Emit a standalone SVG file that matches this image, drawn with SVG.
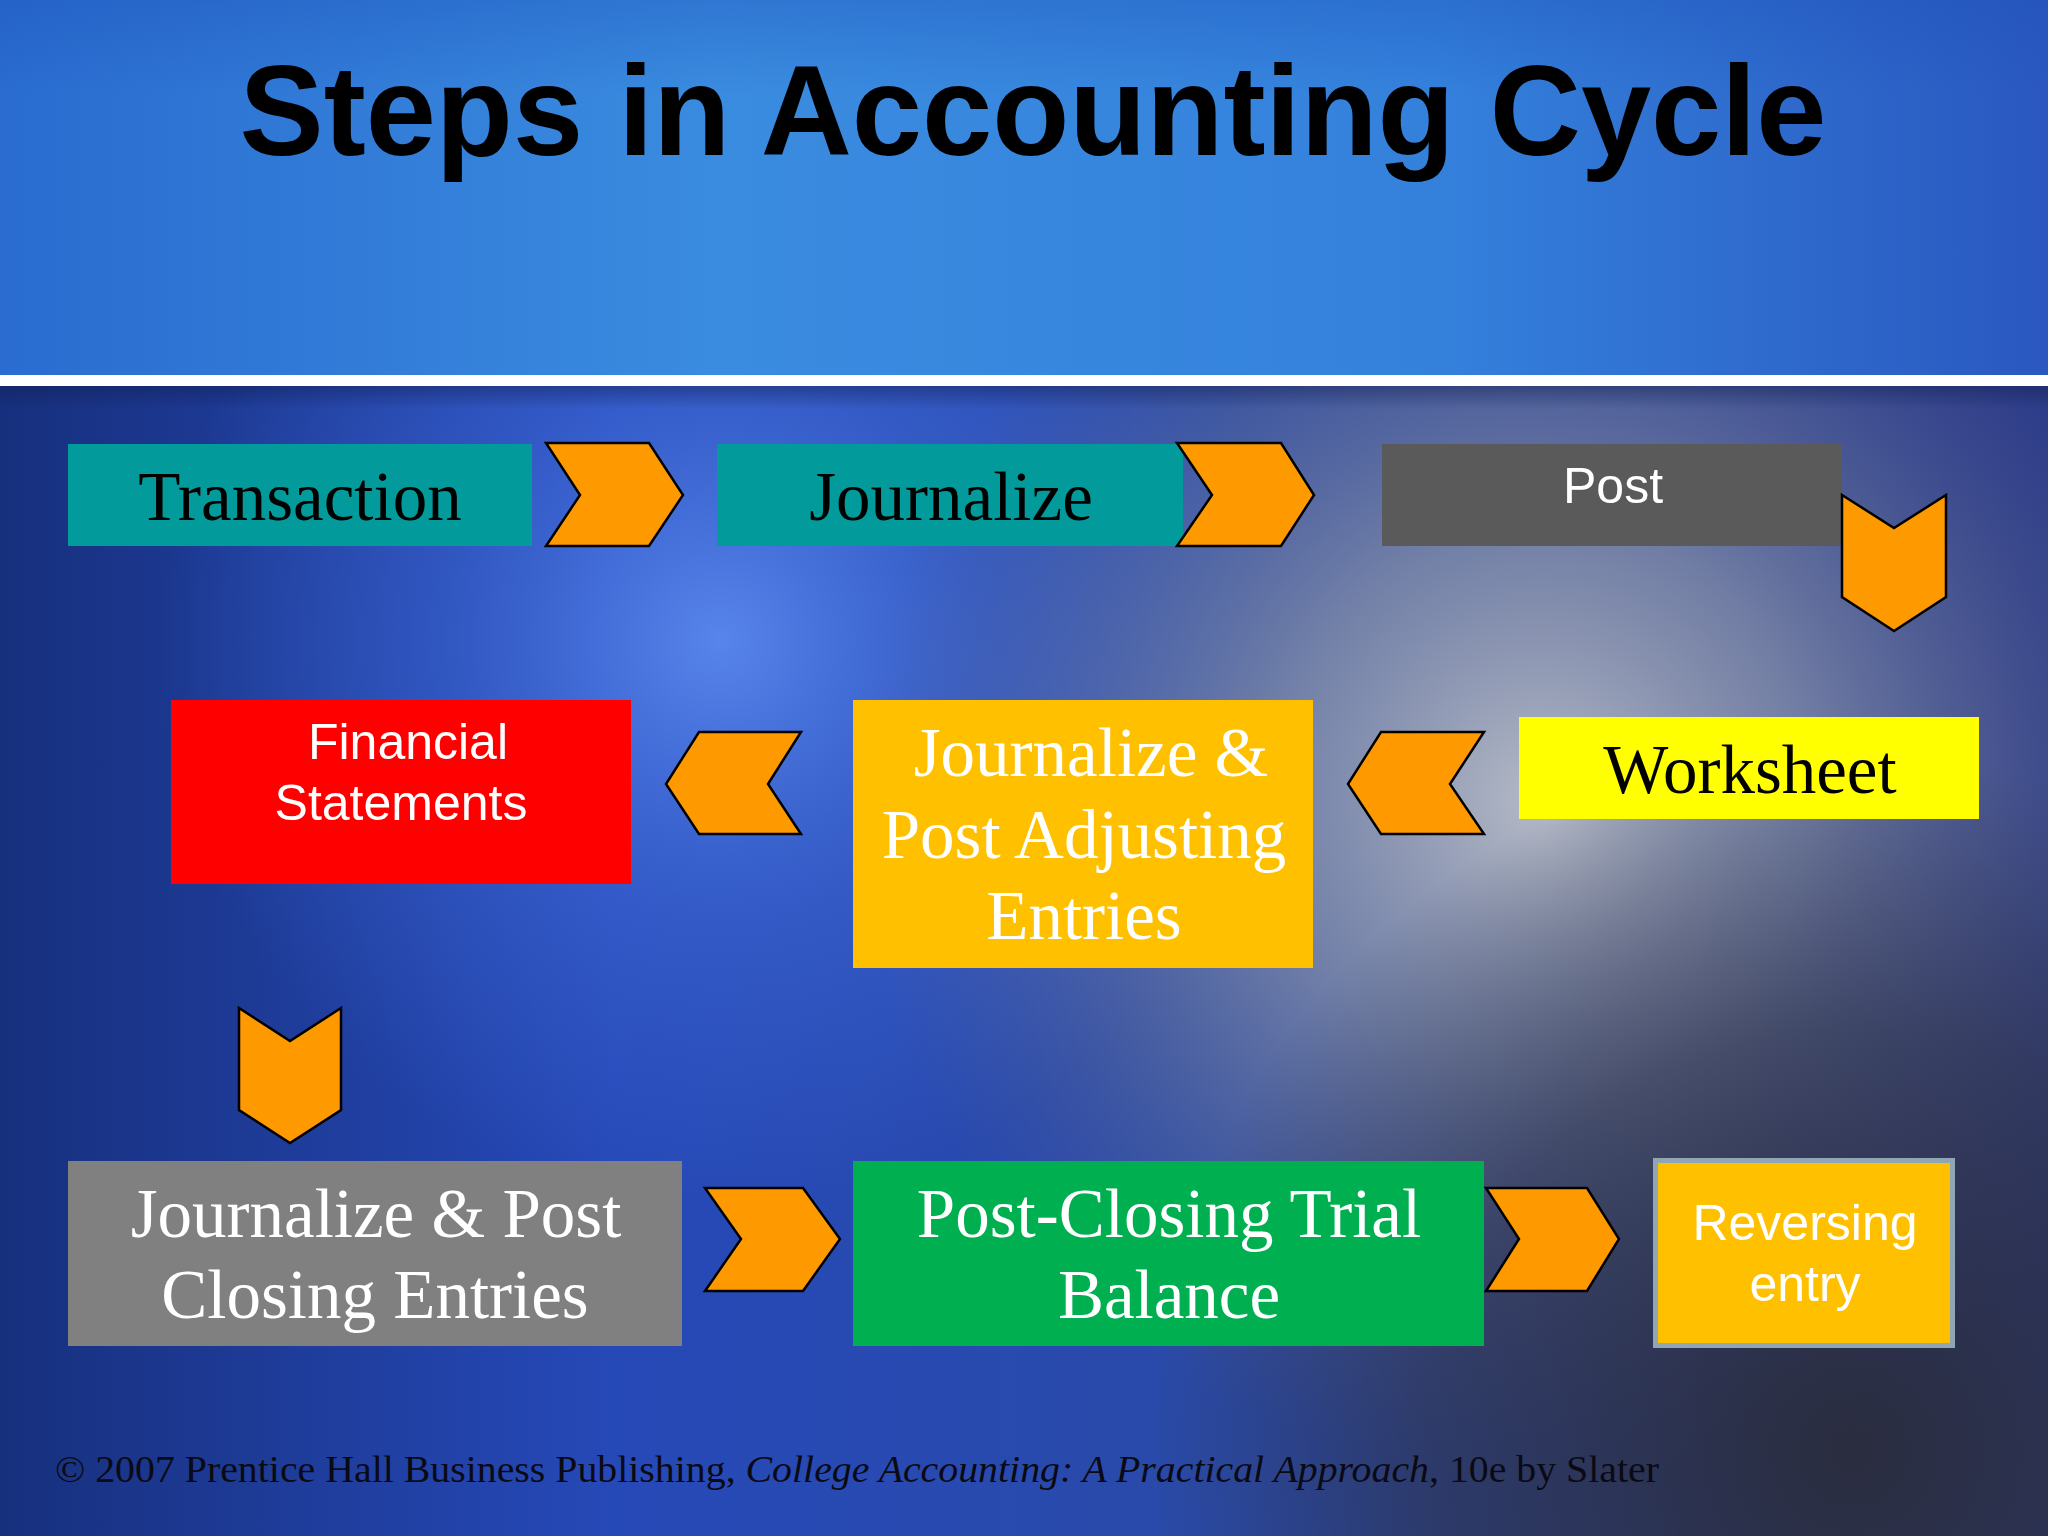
<svg xmlns="http://www.w3.org/2000/svg" width="2048" height="1536" viewBox="0 0 2048 1536">
<defs>
<linearGradient id="topg" x1="0" y1="0" x2="1" y2="0">
<stop offset="0" stop-color="#2a6cd0"/>
<stop offset="0.35" stop-color="#3a8ce0"/>
<stop offset="0.7" stop-color="#3481dc"/>
<stop offset="1" stop-color="#2a58c0"/>
</linearGradient>
<linearGradient id="topv" x1="0" y1="0" x2="0" y2="1">
<stop offset="0" stop-color="#1c50b8" stop-opacity="0.35"/>
<stop offset="0.25" stop-color="#1c50b8" stop-opacity="0"/>
<stop offset="1" stop-color="#1c50b8" stop-opacity="0"/>
</linearGradient>
<linearGradient id="botg" x1="0" y1="0" x2="1" y2="0">
<stop offset="0" stop-color="#17307e"/>
<stop offset="0.3" stop-color="#2649b8"/>
<stop offset="0.6" stop-color="#2a4aa8"/>
<stop offset="1" stop-color="#2a3a8a"/>
</linearGradient>
<radialGradient id="blueglow" cx="720" cy="640" r="560" gradientUnits="userSpaceOnUse">
<stop offset="0" stop-color="#5a88ee" stop-opacity="0.95"/>
<stop offset="0.5" stop-color="#3f6ad8" stop-opacity="0.5"/>
<stop offset="1" stop-color="#3f6ad8" stop-opacity="0"/>
</radialGradient>
<radialGradient id="grayglow" cx="1540" cy="800" r="680" gradientUnits="userSpaceOnUse">
<stop offset="0" stop-color="#bcc0c8" stop-opacity="0.95"/>
<stop offset="0.4" stop-color="#9098aa" stop-opacity="0.7"/>
<stop offset="1" stop-color="#5a6080" stop-opacity="0"/>
</radialGradient>
<radialGradient id="darkbr" cx="1850" cy="1450" r="700" gradientUnits="userSpaceOnUse">
<stop offset="0" stop-color="#2a2c3a" stop-opacity="0.95"/>
<stop offset="0.6" stop-color="#2e3246" stop-opacity="0.6"/>
<stop offset="1" stop-color="#2e3246" stop-opacity="0"/>
</radialGradient>
<linearGradient id="bandg" x1="0" y1="0" x2="0" y2="1">
<stop offset="0" stop-color="#101c50" stop-opacity="0.45"/>
<stop offset="1" stop-color="#101c50" stop-opacity="0"/>
</linearGradient>
<style>
.chev{fill:#ff9900;stroke:#000;stroke-width:2.5;stroke-linejoin:miter}
.serif{font-family:"Liberation Serif","Times New Roman",serif;font-size:69px;text-anchor:middle}
.sans{font-family:"Liberation Sans",Arial,sans-serif;font-size:50px;text-anchor:middle}
.w{fill:#fff}
.k{fill:#000}
</style>
</defs>
<g id="background">
<rect x="0" y="0" width="2048" height="1536" fill="url(#botg)"/>
<rect x="0" y="385" width="2048" height="1151" fill="url(#blueglow)"/>
<rect x="0" y="385" width="2048" height="1151" fill="url(#grayglow)"/>
<rect x="0" y="385" width="2048" height="1151" fill="url(#darkbr)"/>
<rect x="0" y="385" width="2048" height="24" fill="url(#bandg)"/>
<rect x="0" y="0" width="2048" height="375" fill="url(#topg)"/>
<rect x="0" y="0" width="2048" height="375" fill="url(#topv)"/>
<rect x="0" y="375" width="2048" height="11" fill="#ffffff"/>
</g>
<text id="title" x="1033" y="155" font-family="'Liberation Sans',Arial,sans-serif" font-weight="bold" font-size="128" text-anchor="middle" textLength="1587" lengthAdjust="spacingAndGlyphs" fill="#000">Steps in Accounting Cycle</text>
<g id="node-transaction">
<rect x="68" y="444" width="464" height="102" fill="#029a9a"/>
<text class="serif k" x="300" y="520">Transaction</text>
</g>
<g id="node-journalize">
<rect x="717" y="444" width="466" height="102" fill="#029a9a"/>
<text class="serif k" x="951" y="520">Journalize</text>
</g>
<g id="node-post">
<rect x="1382" y="444" width="460" height="102" fill="#5a5a5a"/>
<text class="sans w" x="1613" y="503" font-size="49">Post</text>
</g>
<g id="node-worksheet">
<rect x="1519" y="717" width="460" height="102" fill="#ffff00"/>
<text class="serif k" x="1750" y="793">Worksheet</text>
</g>
<g id="node-adjusting">
<rect x="853" y="700" width="460" height="268" fill="#ffc000"/>
<text class="serif w" x="1091" y="776">Journalize &amp;</text>
<text class="serif w" x="1084" y="858">Post Adjusting</text>
<text class="serif w" x="1084" y="939">Entries</text>
</g>
<g id="node-financial">
<rect x="171" y="700" width="460" height="184" fill="#ff0000"/>
<text class="sans w" x="408" y="759">Financial</text>
<text class="sans w" x="401" y="820">Statements</text>
</g>
<g id="node-closing">
<rect x="68" y="1161" width="614" height="185" fill="#808080"/>
<text class="serif w" x="376" y="1237">Journalize &amp; Post</text>
<text class="serif w" x="375" y="1318">Closing Entries</text>
</g>
<g id="node-postclosing">
<rect x="853" y="1161" width="631" height="185" fill="#00b050"/>
<text class="serif w" x="1169" y="1237">Post-Closing Trial</text>
<text class="serif w" x="1169" y="1318">Balance</text>
</g>
<g id="node-reversing">
<rect x="1655.5" y="1160.5" width="297" height="185" fill="#ffc000" stroke="#8fa6b4" stroke-width="5"/>
<text class="sans w" x="1805" y="1240">Reversing</text>
<text class="sans w" x="1805" y="1301">entry</text>
</g>
<g id="connectors">
<polygon class="chev" points="546,443 649,443 683,495 649,546 546,546 580,495"/>
<polygon class="chev" points="1177,443 1281,443 1314,495 1281,546 1177,546 1212,495"/>
<polygon class="chev" points="1842,495 1894,528 1946,495 1946,597 1894,631 1842,597"/>
<polygon class="chev" points="1484,732 1381,732 1348,784 1381,834 1484,834 1450,784"/>
<polygon class="chev" points="801,732 699,732 666,784 699,834 801,834 768,784"/>
<polygon class="chev" points="239,1008 290,1041 341,1008 341,1110 290,1143 239,1110"/>
<polygon class="chev" points="705,1188 803,1188 840,1239 803,1291 705,1291 741,1239"/>
<polygon class="chev" points="1486,1188 1587,1188 1619,1239 1587,1291 1486,1291 1519,1239"/>
</g>
<text id="footer" x="55" y="1482" font-family="'Liberation Serif','Times New Roman',serif" font-size="38" fill="#0a0a14" textLength="1604" lengthAdjust="spacingAndGlyphs">© 2007 Prentice Hall Business Publishing, <tspan font-style="italic">College Accounting: A Practical Approach</tspan>, 10e by Slater</text>
</svg>
